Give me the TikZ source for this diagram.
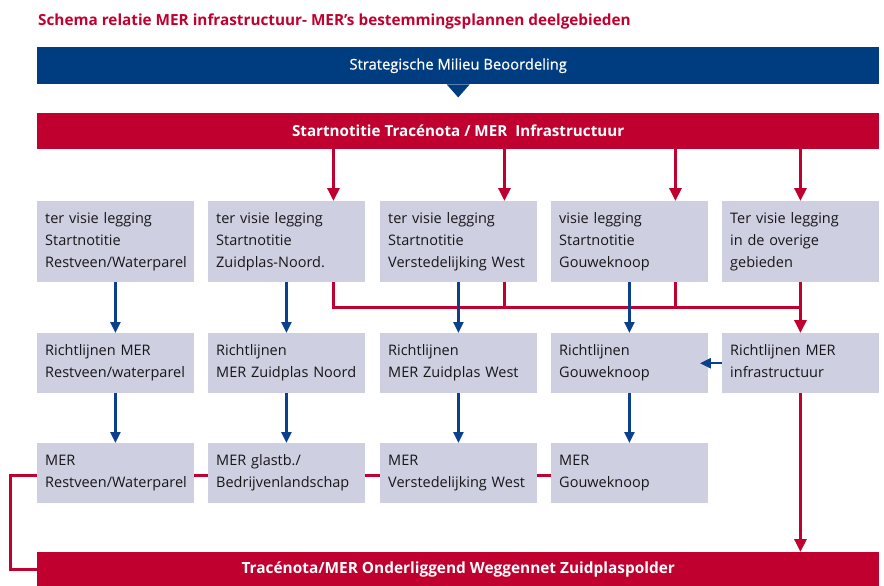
\documentclass[tikz,border=0pt]{standalone}
\usepackage{fontspec}
\setmainfont{Open Sans}
\newfontfamily\medfont[FakeBold=0.6]{Open Sans}
\usetikzlibrary{arrows.meta}
\definecolor{mblue}{RGB}{0,61,128}
\definecolor{mred}{RGB}{192,0,46}
\definecolor{mbox}{RGB}{206,208,226}
\definecolor{mtext}{RGB}{25,22,24}
\definecolor{marblue}{RGB}{10,64,140}
\begin{document}
\begin{tikzpicture}[x=1pt,y=-1pt,
  box/.style={fill=mbox, draw=none, anchor=north west, inner xsep=8pt, inner ysep=0pt,
    text width=140.5pt, align=left, text=mtext, font=\fontsize{14.5}{22}\selectfont,
    execute at end node={\vphantom{gp/}}},
  box3/.style={box, minimum height=81pt},
  box2/.style={box, minimum height=60pt},
  bar/.style={anchor=north west, minimum width=842pt, inner sep=0pt, text=white},
  redarr/.style={draw=mred, line width=3pt, -{Triangle[width=12pt,length=13pt]}},
  redline/.style={draw=mred, line width=3pt},
  bluearr/.style={draw=marblue, line width=2.5pt, -{Triangle[width=10pt,length=11pt]}}]
\useasboundingbox (0,0) rectangle (884,586);

\node[anchor=base west, text=mred, font=\fontsize{15.3}{17}\selectfont\bfseries, inner sep=0pt] (title) at (38,26)
  {Schema relatie MER infrastructuur- MER’s bestemmingsplannen deelgebieden};

\node[bar, fill=mblue, minimum height=37pt, font=\fontsize{14.8}{17}\selectfont\medfont] (smb) at (37,47) {Strategische Milieu Beoordeling};
\fill[mblue] ([xshift=-11.5pt]smb.south) -- ([xshift=11.5pt]smb.south) -- ([yshift=-13pt]smb.south) -- cycle;

\node[bar, fill=mred, minimum height=36pt, font=\fontsize{15.2}{17}\selectfont\bfseries] (start) at (37,113) {Startnotitie Tracénota / MER\ \ Infrastructuur};

\node[bar, fill=mred, minimum height=34pt, font=\fontsize{15.4}{17}\selectfont\bfseries] (trace) at (37,552) {Tracénota/MER Onderliggend Weggennet Zuidplaspolder};

% row 1
\node[box3] (b11) at (37,201) {ter visie legging\\Startnotitie\\Restveen/Waterparel};
\node[box3] (b12) at (208,201) {ter visie legging\\Startnotitie\\Zuidplas-Noord.};
\node[box3] (b13) at (380,201) {ter visie legging\\Startnotitie\\Verstedelijking West};
\node[box3] (b14) at (551,201) {visie legging\\Startnotitie\\Gouweknoop};
\node[box3] (b15) at (722,201) {Ter visie legging\\in de overige\\gebieden};
% row 2
\node[box2] (b21) at (37,333) {Richtlijnen MER\\Restveen/waterparel};
\node[box2] (b22) at (208,333) {Richtlijnen\\MER Zuidplas Noord};
\node[box2] (b23) at (380,333) {Richtlijnen\\MER Zuidplas West};
\node[box2] (b24) at (551,333) {Richtlijnen\\Gouweknoop};
\node[box2] (b25) at (722,333) {Richtlijnen MER\\infrastructuur};
% row 3
\node[box2] (b31) at (37,443) {MER\\Restveen/Waterparel};
\node[box2] (b32) at (208,443) {MER glastb./\\Bedrijvenlandschap};
\node[box2] (b33) at (380,443) {MER\\Verstedelijking West};
\node[box2] (b34) at (551,443) {MER\\Gouweknoop};

% red arrows from Startnotitie bar
\draw[redarr] ([xshift=47pt]b12.north |- start.south) -- ([xshift=47pt]b12.north);
\draw[redarr] ([xshift=46pt]b13.north |- start.south) -- ([xshift=46pt]b13.north);
\draw[redarr] ([xshift=46pt]b14.north |- start.south) -- ([xshift=46pt]b14.north);
\draw[redarr] (b15.north |- start.south) -- (b15.north);

% red collector line
\draw[redline] ([xshift=47pt]b12.south) |- ([yshift=-25pt]b15.south);
\draw[redline] ([xshift=46pt]b13.south) -- ++(0,25);
\draw[redline] ([xshift=46pt]b14.south) -- ++(0,25);
\draw[redarr] (b15.south) -- (b25.north);

% blue arrows
\draw[bluearr] (b11.south) -- (b21.north);
\draw[bluearr] (b12.south) -- (b22.north);
\draw[bluearr] (b13.south) -- (b23.north);
\draw[bluearr] (b14.south) -- (b24.north);
\draw[bluearr] (b21.south) -- (b31.north);
\draw[bluearr] (b22.south) -- (b32.north);
\draw[bluearr] (b23.south) -- (b33.north);
\draw[bluearr] (b24.south) -- (b34.north);
\draw[bluearr] (b25.west) -- ([xshift=-8pt]b24.east);

% red to bottom bar
\draw[redarr] (b25.south) -- (b25.south |- trace.north);

% row 3 connections
\draw[redline] ([yshift=-2pt]b31.east) -- ([yshift=-2pt]b32.west);
\draw[redline] ([yshift=-2pt]b32.east) -- ([yshift=-2pt]b33.west);
\draw[redline] ([yshift=-2pt]b33.east) -- ([yshift=-2pt]b34.west);
\draw[redline] ([yshift=-2pt]b31.west) -- ++(-27,0) |- (trace.west);
\end{tikzpicture}
\end{document}
